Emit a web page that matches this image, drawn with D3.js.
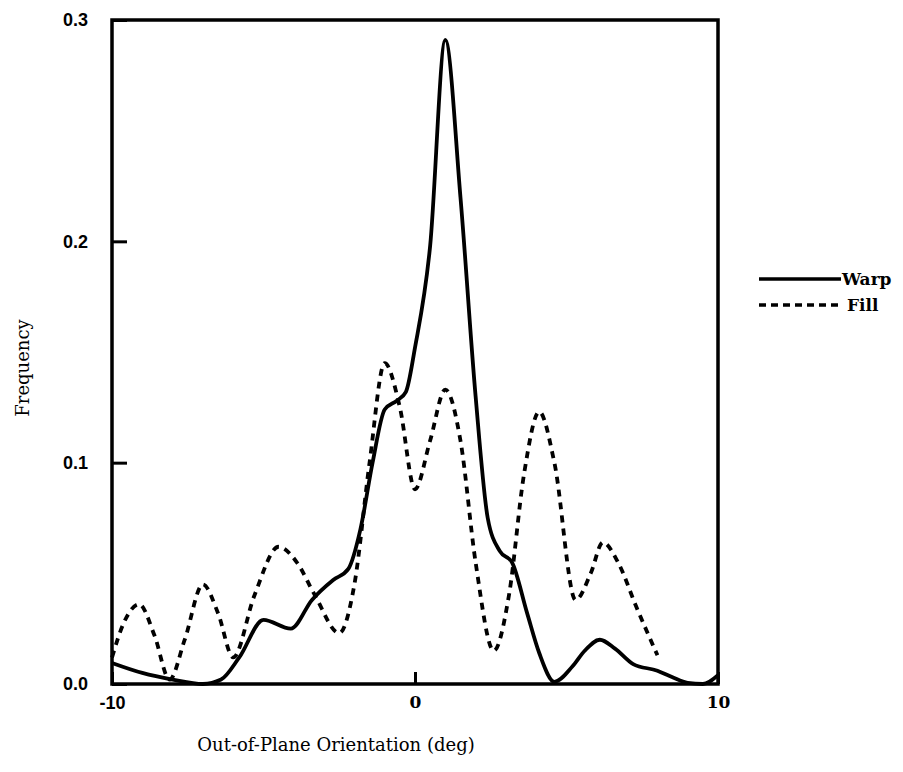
<!DOCTYPE html>
<html>
<head>
<meta charset="utf-8">
<script src="https://cdn.jsdelivr.net/npm/d3@7"></script>
<style>
  body { margin: 0; background: #fff; }
  svg { display: block; }
</style>
</head>
<body>
<script>
// x values in degrees, y values as frequency
const warpX = [-10, -9, -8, -7, -6.4, -5.8, -5.0, -4.1, -3.4, -2.7, -2.2, -1.8, -1.4, -1.0, -0.6, -0.3, 0, 0.5, 1.0, 1.5, 2.0, 2.4, 2.8, 3.2, 3.7, 4.1, 4.6, 5.2, 5.6, 6.1, 6.6, 7.2, 8.0, 8.5, 9.0, 9.5, 10];
const warpY = [0.0095, 0.005, 0.002, 0.0, 0.002, 0.012, 0.029, 0.025, 0.038, 0.047, 0.052, 0.07, 0.10, 0.124, 0.128, 0.132, 0.152, 0.198, 0.291, 0.22, 0.13, 0.075, 0.06, 0.055, 0.032, 0.014, 0.001, 0.008, 0.015, 0.020, 0.016, 0.009, 0.006, 0.003, 0.0005, 0.0, 0.004];

const fillX = [-10, -9.6, -9.1, -8.6, -8.1, -7.6, -7.0, -6.5, -6.0, -5.3, -4.5, -3.9, -3.3, -2.5, -2.0, -1.5, -1.0, -0.5, 0, 0.5, 1.0, 1.5, 2.0, 2.6, 3.1, 3.6, 4.1, 4.6, 5.3, 5.8, 6.2, 6.7, 7.3, 8.0];
const fillY = [0.012, 0.028, 0.036, 0.022, 0.002, 0.020, 0.045, 0.032, 0.012, 0.040, 0.062, 0.055, 0.040, 0.023, 0.045, 0.100, 0.145, 0.125, 0.088, 0.110, 0.133, 0.110, 0.055, 0.015, 0.040, 0.095, 0.123, 0.100, 0.038, 0.050, 0.064, 0.055, 0.035, 0.013];

const xTicks = [-10, 0, 10];
const yTicks = [0.0, 0.1, 0.2, 0.3];
const seriesNames = ["Warp", "Fill"];

const W = 903, H = 772;
const plotLeft = 112, plotRight = 718, plotTop = 20, plotBottom = 684;

const svg = d3.select("body").append("svg")
    .attr("width", W)
    .attr("height", H);

const x = d3.scaleLinear().domain([-10, 10]).range([plotLeft, plotRight]);
const y = d3.scaleLinear().domain([0, 0.3]).range([plotBottom, plotTop]);

// curves
const line = d3.line()
    .x(d => x(d[0]))
    .y(d => y(d[1]))
    .curve(d3.curveMonotoneX);

const warp = warpX.map((v, i) => [v, warpY[i]]);
const fill = fillX.map((v, i) => [v, fillY[i]]);

svg.append("path")
    .datum(fill)
    .attr("d", line)
    .attr("fill", "none")
    .attr("stroke", "#000")
    .attr("stroke-width", 3.8)
    .attr("stroke-dasharray", "7,6");

svg.append("path")
    .datum(warp)
    .attr("d", line)
    .attr("fill", "none")
    .attr("stroke", "#000")
    .attr("stroke-width", 3.8);

// frame
svg.append("rect")
    .attr("x", plotLeft).attr("y", plotTop)
    .attr("width", plotRight - plotLeft).attr("height", plotBottom - plotTop)
    .attr("fill", "none")
    .attr("stroke", "#000")
    .attr("stroke-width", 3.5);

// y axis (ticks inside)
const yAxis = svg.append("g")
    .attr("transform", `translate(${plotLeft},0)`)
    .call(d3.axisLeft(y).tickValues(yTicks).tickFormat(d3.format(".1f")).tickSizeInner(-15).tickSizeOuter(0).tickPadding(24));
yAxis.select(".domain").remove();
yAxis.selectAll("line").attr("stroke-width", 3);
yAxis.selectAll("text")
    .style("font-family", "'Liberation Sans', Arial, sans-serif")
    .style("font-weight", "bold")
    .style("font-size", "18px")
    .attr("fill", "#000");

// x axis (ticks inside), plain hyphen for the minus
const xAxis = svg.append("g")
    .attr("transform", `translate(0,${plotBottom})`)
    .call(d3.axisBottom(x).tickValues(xTicks).tickFormat(d => String(d)).tickSizeInner(-12).tickSizeOuter(0).tickPadding(12));
xAxis.select(".domain").remove();
xAxis.selectAll("line").attr("stroke-width", 3);
xAxis.selectAll("text")
    .style("font-family", "'DejaVu Serif', serif")
    .style("font-weight", "bold")
    .style("font-size", "17px")
    .attr("fill", "#000");
xAxis.selectAll(".tick").filter(d => d === -10).select("text")
    .style("font-family", "'Liberation Sans', Arial, sans-serif")
    .style("font-size", "18px");

// axis titles
svg.append("text")
    .attr("x", 336).attr("y", 751)
    .attr("text-anchor", "middle")
    .style("font-family", "'DejaVu Serif', serif")
    .style("font-size", "18px")
    .text("Out-of-Plane Orientation (deg)");

svg.append("text")
    .attr("transform", "translate(29,368) rotate(-90)")
    .attr("text-anchor", "middle")
    .style("font-family", "'DejaVu Serif', serif")
    .style("font-size", "18px")
    .text("Frequency");

// legend
const legend = svg.append("g").attr("transform", "translate(759,279)");
seriesNames.forEach((name, i) => {
    const g = legend.append("g").attr("transform", `translate(0,${i * 26})`);
    g.append("line")
        .attr("x1", 0).attr("x2", i === 0 ? 82 : 79)
        .attr("stroke", "#000")
        .attr("stroke-width", 3.5)
        .attr("stroke-dasharray", i === 1 ? "7,5" : null);
    g.append("text")
        .attr("x", i === 0 ? 83 : 88).attr("y", 0)
        .attr("dy", "0.35em")
        .style("font-family", "'DejaVu Serif', serif")
        .style("font-weight", "bold")
        .style("font-size", "17px")
        .text(name);
});
</script>
</body>
</html>
